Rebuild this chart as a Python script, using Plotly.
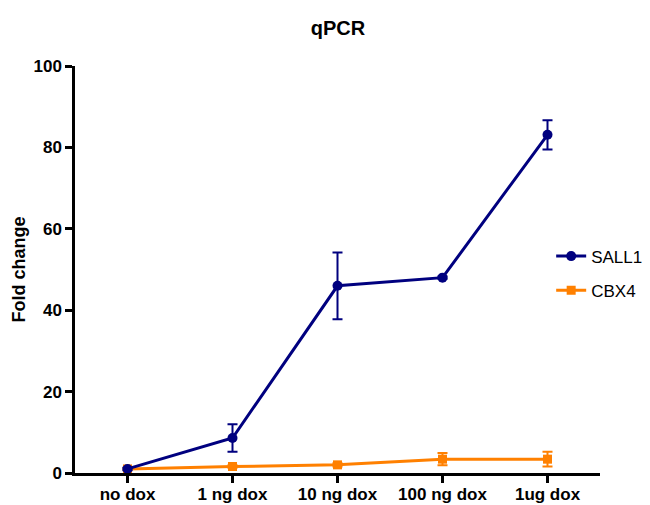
import plotly.graph_objects as go

categories = ["no dox", "1 ng dox", "10 ng dox", "100 ng dox", "1ug dox"]
sall1 = [1.0, 8.6, 46.0, 48.0, 83.1]
sall1_err = [0.3, 3.4, 8.2, 0.3, 3.6]
cbx4 = [1.0, 1.6, 2.0, 3.4, 3.4]
cbx4_err = [0.2, 0.3, 0.4, 1.5, 1.8]

NAVY = "#00007F"
ORANGE = "#FF8000"

fig = go.Figure()
fig.add_trace(go.Scatter(
    x=categories, y=cbx4, name="CBX4", mode="lines+markers",
    line=dict(color=ORANGE, width=3),
    marker=dict(symbol="square", size=9, color=ORANGE),
    error_y=dict(type="data", array=cbx4_err, visible=True, color=ORANGE, thickness=2, width=5),
    legendrank=2, legendgroup="cbx4",
))
fig.add_trace(go.Scatter(
    x=categories, y=sall1, name="SALL1", mode="lines+markers",
    line=dict(color=NAVY, width=3),
    marker=dict(symbol="circle", size=10, color=NAVY),
    error_y=dict(type="data", array=sall1_err, visible=True, color=NAVY, thickness=2, width=5),
    legendrank=1, legendgroup="sall1",
))

font = "Liberation Sans, Arial, sans-serif"
fig.update_layout(
    width=650, height=497,
    margin=dict(l=67, r=58, t=58, b=32, autoexpand=False),
    plot_bgcolor="white", paper_bgcolor="white",
    font=dict(family=font, color="black"),
    title=dict(text="<b>qPCR</b>", x=330 / 650, xanchor="center", y=1 - 20 / 497, yanchor="middle",
               font=dict(size=20, family=font, color="black")),
    showlegend=True,
    legend=dict(x=0.907, xanchor="left", y=0.49, yanchor="middle", font=dict(size=17, family=font),
                bgcolor="rgba(0,0,0,0)", tracegroupgap=9, itemwidth=30),
)
fig.update_xaxes(
    type="category", range=[-0.5, 4.5], automargin=False,
    showline=True, linecolor="black", linewidth=2.5,
    ticks="outside", ticklen=7, tickwidth=2.5, tickcolor="black",
    showgrid=False, zeroline=False, ticklabelstandoff=-3,
    tickfont=dict(size=17, family=font, color="black", weight="bold"),
)
fig.update_yaxes(
    range=[0, 100], tickvals=[0, 20, 40, 60, 80, 100], automargin=False,
    showline=True, linecolor="black", linewidth=2.5,
    ticks="outside", ticklen=7, tickwidth=2.5, tickcolor="black",
    showgrid=False, zeroline=False,
    tickfont=dict(size=17, family=font, color="black", weight="bold"),
    title=dict(text="<b>Fold change</b>", font=dict(size=18, family=font, color="black"), standoff=4),
)
fig.write_html("out.html")
